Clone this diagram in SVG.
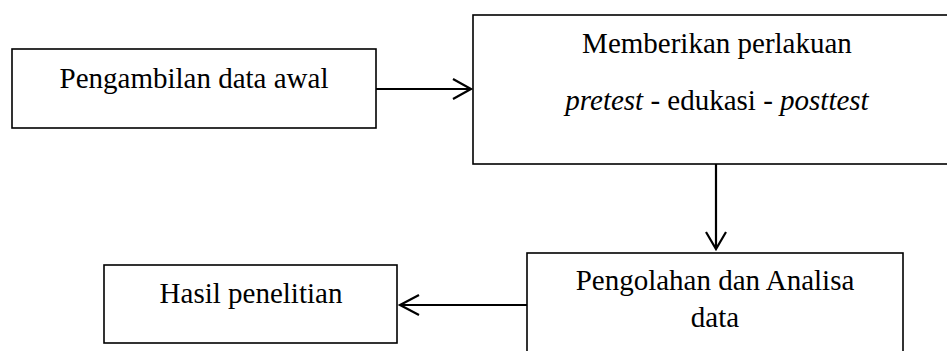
<svg xmlns="http://www.w3.org/2000/svg" width="947" height="351" viewBox="0 0 947 351">
<style>
.box{fill:#fff;stroke:#000;stroke-width:1.6}
text{font-family:'Liberation Serif','Times New Roman',Times,serif;font-size:29px;fill:#000;text-anchor:middle}
.i{font-style:italic}
.c{fill:none;stroke:#000;stroke-width:2.2;stroke-linecap:butt}
</style>
<rect width="947" height="351" fill="#fff"/>
<g id="node-pengambilan">
<rect class="box" x="12" y="49" width="364" height="79"/>
<text font-family="Liberation Serif, serif" x="194" y="88">Pengambilan data awal</text>
</g>
<g id="node-memberikan">
<rect class="box" x="473" y="15" width="490" height="149"/>
<text font-family="Liberation Serif, serif" x="717" y="53">Memberikan perlakuan</text>
<text font-family="Liberation Serif, serif" x="717" y="110"><tspan class="i">pretest</tspan> - edukasi - <tspan class="i">posttest</tspan></text>
</g>
<g id="node-pengolahan">
<rect class="box" x="527" y="253" width="376" height="120"/>
<text font-family="Liberation Serif, serif" x="715" y="290">Pengolahan dan Analisa</text>
<text font-family="Liberation Serif, serif" x="715" y="327">data</text>
</g>
<g id="node-hasil">
<rect class="box" x="104" y="265" width="293" height="78"/>
<text font-family="Liberation Serif, serif" x="251" y="303">Hasil penelitian</text>
</g>
<g id="connectors">
<path class="c" d="M376 89 H471 M453 79 L471 89 L453 99"/>
<path class="c" d="M716 164 V249 M706 232 L716 249 L726 232"/>
<path class="c" d="M527 305 H400 M419 295 L400 305 L419 315"/>
</g>
</svg>
